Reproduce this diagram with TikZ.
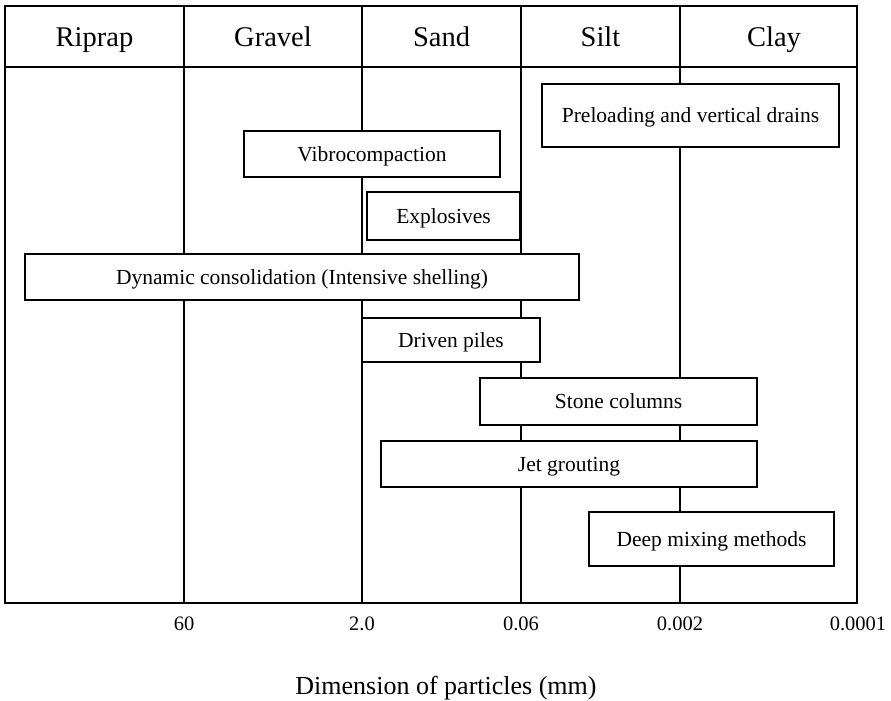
\documentclass[tikz,border=0pt]{standalone}
\usepackage{fontspec}
\setmainfont{Liberation Serif}
\tikzset{
  x=1pt, y=-1pt,
}
\tikzstyle{grid}=[line width=1.3pt]
\tikzstyle{method}=[draw, fill=white, line width=1.3pt, inner sep=0pt, text height=14pt, text depth=0pt, font=\fontsize{21.5}{25}\selectfont]
\tikzstyle{soil}=[anchor=base, font=\fontsize{28.5}{32}\selectfont]
\tikzstyle{size}=[anchor=base, font=\fontsize{20.5}{24}\selectfont]

\begin{document}
\begin{tikzpicture}
    \useasboundingbox (0,0) rectangle (891,701);
    \draw[grid] (5,6) rectangle (857,603);
    \draw[grid] (5,67)--(857,67);
    \foreach \x in {184,362,521,680} \draw[grid] (\x,6)--(\x,603);
    % soil classes
    \node[soil] (riprap) at (94.5,47) {Riprap};
    \node[soil] (gravel) at (273,47) {Gravel};
    \node[soil] (sand) at (441.5,47) {Sand};
    \node[soil] (silt) at (600.5,47) {Silt};
    \node[soil] (clay) at (774,47) {Clay};
    % methods
    \node[method,minimum width=297pt,minimum height=63pt] (preload) at (690.5,115.5) {Preloading and vertical drains};
    \node[method,minimum width=256pt,minimum height=46pt] (vibro) at (372,154) {Vibrocompaction};
    \node[method,minimum width=153pt,minimum height=48pt] (explo) at (443.5,216) {Explosives};
    \node[method,minimum width=554pt,minimum height=46pt] (dynamic) at (302,277) {Dynamic consolidation (Intensive shelling)};
    \node[method,minimum width=178pt,minimum height=44pt] (piles) at (451,340) {Driven piles};
    \node[method,minimum width=277pt,minimum height=47pt] (stone) at (618.5,401.5) {Stone columns};
    \node[method,minimum width=376pt,minimum height=46pt] (jet) at (569,464) {Jet grouting};
    \node[method,minimum width=245pt,minimum height=54pt] (deep) at (711.5,539) {Deep mixing methods};
    % particle sizes
    \node[size] (s60) at (184,630) {60};
    \node[size] (s2) at (362,630) {2.0};
    \node[size] (s006) at (521,630) {0.06};
    \node[size] (s0002) at (680,630) {0.002};
    \node[size] (s00001) at (858,630) {0.0001};
    \node[anchor=base, font=\fontsize{26}{30}\selectfont] (title) at (446,694) {Dimension of particles (mm)};
\end{tikzpicture}
\end{document}
